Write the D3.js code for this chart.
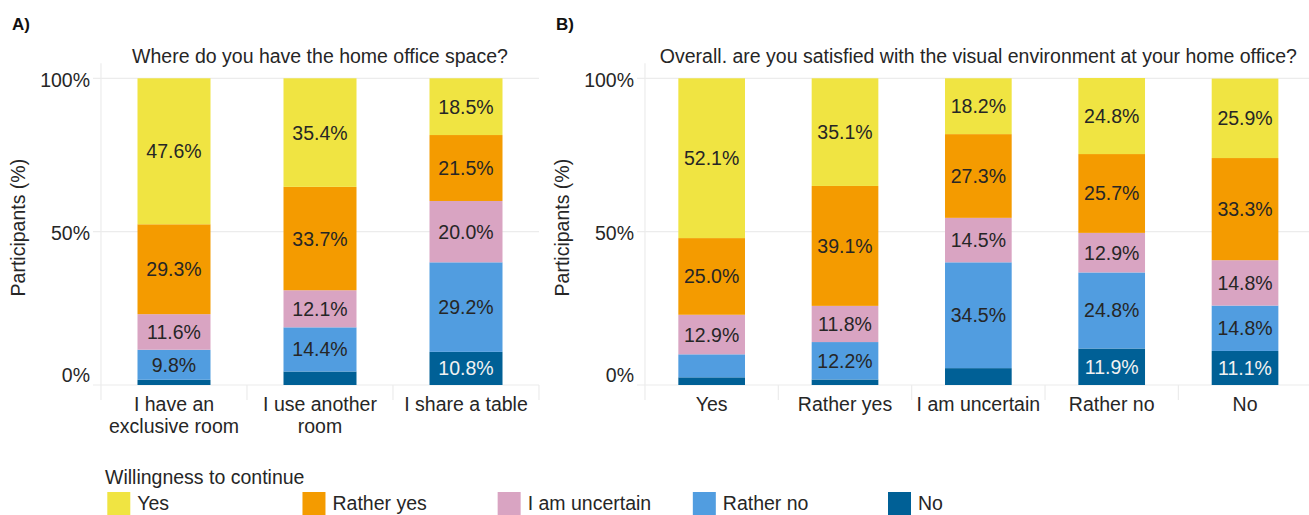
<!DOCTYPE html>
<html>
<head>
<meta charset="utf-8">
<script src="https://cdn.jsdelivr.net/npm/d3@7"></script>
<style>
  html, body { margin: 0; padding: 0; background: #fff; }
  svg { display: block; font-family: "Liberation Sans", Arial, sans-serif; }
</style>
</head>
<body>
<svg id="chart" width="1309" height="515"></svg>
<script>
// ---- data ----
const levels = ["Yes", "Rather yes", "I am uncertain", "Rather no", "No"];
const levelColors = ["#F0E442", "#F49B00", "#D9A4C2", "#519DE0", "#006096"];
const yTicks = [0, 50, 100];

const titleA = "Where do you have the home office space?";
const catsA = ["I have an exclusive room", "I use another room", "I share a table"];
const catLinesA = [["I have an", "exclusive room"], ["I use another", "room"], ["I share a table"]];
const yesA = [47.6, 35.4, 18.5];
const ratherYesA = [29.3, 33.7, 21.5];
const uncertainA = [11.6, 12.1, 20.0];
const ratherNoA = [9.8, 14.4, 29.2];
const noA = [1.7, 4.4, 10.8];

const titleB = "Overall. are you satisfied with the visual environment at your home office?";
const catsB = ["Yes", "Rather yes", "I am uncertain", "Rather no", "No"];
const yesB = [52.1, 35.1, 18.2, 24.8, 25.9];
const ratherYesB = [25.0, 39.1, 27.3, 25.7, 33.3];
const uncertainB = [12.9, 11.8, 14.5, 12.9, 14.8];
const ratherNoB = [7.5, 12.2, 34.5, 24.8, 14.8];
const noB = [2.5, 1.8, 5.5, 11.9, 11.1];

// ---- drawing ----
const svg = d3.select("#chart");
const FS = 19.5;
const textCol = "#262626";
const gridCol = "#ECECEC";
const color = d3.scaleOrdinal().domain(levels).range(levelColors);

const y = d3.scaleLinear().domain([0, 100]).range([385, 78.3]);

function panel(opts) {
  const { cats, lines, series, x0, x1, title, tag, tagX } = opts;
  const g = svg.append("g");
  const x = d3.scaleBand().domain(cats).range([x0, x1]).paddingInner(0.5).paddingOuter(0.25);
  const step = x.step();

  const rows = cats.map((c, i) => {
    const r = { cat: c };
    levels.forEach((l, j) => r[l] = series[j][i]);
    return r;
  });
  const stackKeys = levels.slice().reverse();
  const stacked = d3.stack().keys(stackKeys)(rows);

  // grid
  g.selectAll("line.hg").data(yTicks).join("line")
    .attr("x1", x0 - 8).attr("x2", x1)
    .attr("y1", d => y(d)).attr("y2", d => y(d))
    .attr("stroke", gridCol).attr("stroke-width", 1.2);
  g.append("line").attr("x1", x0).attr("x2", x0)
    .attr("y1", y(100) - 15).attr("y2", y(0) + 15)
    .attr("stroke", gridCol).attr("stroke-width", 1.2);
  g.selectAll("line.sep").data(cats).join("line")
    .attr("x1", (d, i) => x0 + step * (i + 1)).attr("x2", (d, i) => x0 + step * (i + 1))
    .attr("y1", y(0)).attr("y2", y(0) + 15)
    .attr("stroke", gridCol).attr("stroke-width", 1.2);

  // bars
  const layers = g.selectAll("g.layer").data(stacked).join("g")
    .attr("fill", d => color(d.key));
  layers.selectAll("rect").data(d => d.map(v => ({ v, key: d.key }))).join("rect")
    .attr("x", d => x(d.v.data.cat))
    .attr("width", x.bandwidth())
    .attr("y", d => y(d.v[1]))
    .attr("height", d => y(d.v[0]) - y(d.v[1]));

  // value labels
  const labels = [];
  stacked.forEach(layer => layer.forEach(v => {
    const val = v.data[layer.key];
    if (val >= 8) labels.push({ cat: v.data.cat, key: layer.key, val, mid: (v[0] + v[1]) / 2 });
  }));
  g.selectAll("text.val").data(labels).join("text")
    .attr("x", d => x(d.cat) + x.bandwidth() / 2)
    .attr("y", d => y(d.mid))
    .attr("dy", "0.36em")
    .attr("text-anchor", "middle")
    .attr("font-size", FS)
    .attr("fill", d => d.key === "No" ? "#F2F2F2" : textCol)
    .text(d => d.val.toFixed(1) + "%");

  // y axis labels
  const ax = g.append("g").attr("transform", `translate(${x0 - 11},0)`)
    .call(d3.axisLeft(y).tickValues(yTicks).tickSize(0).tickPadding(0).tickFormat(d => d + "%"));
  ax.select(".domain").remove();
  ax.selectAll("text").attr("font-size", FS).attr("fill", textCol)
    .attr("font-family", "Liberation Sans, Arial, sans-serif")
    .attr("dy", d => d === 0 ? "-0.2em" : "0.4em");

  // y axis title
  g.append("text")
    .attr("transform", `translate(${tagX + 6},${y(50) - 4}) rotate(-90)`)
    .attr("text-anchor", "middle").attr("dy", "0.35em")
    .attr("font-size", FS).attr("fill", textCol)
    .text("Participants (%)");

  // x labels
  const xl = g.selectAll("text.xl").data(cats).join("text")
    .attr("x", d => x(d) + x.bandwidth() / 2)
    .attr("y", y(0) + 26)
    .attr("text-anchor", "middle").attr("font-size", FS).attr("fill", textCol);
  xl.each(function (d, i) {
    const t = d3.select(this);
    lines[i].forEach((ln, k) => {
      t.append("tspan").attr("x", x(d) + x.bandwidth() / 2).attr("dy", k === 0 ? 0 : 21.7).text(ln);
    });
  });

  // title
  g.append("text").attr("x", (x0 + x1) / 2).attr("y", 63)
    .attr("text-anchor", "middle").attr("font-size", FS).attr("fill", textCol)
    .text(title);

  // tag
  g.append("text").attr("x", tagX).attr("y", 30)
    .attr("font-size", 17).attr("font-weight", "bold").attr("fill", "#111")
    .text(tag);
}

panel({
  cats: catsA, lines: catLinesA,
  series: [yesA, ratherYesA, uncertainA, ratherNoA, noA],
  x0: 101, x1: 539, title: titleA, tag: "A)", tagX: 12
});
panel({
  cats: catsB, lines: catsB.map(c => [c]),
  series: [yesB, ratherYesB, uncertainB, ratherNoB, noB],
  x0: 645, x1: 1311.7, title: titleB, tag: "B)", tagX: 556
});

// legend
const lg = svg.append("g");
lg.append("text").attr("x", 105).attr("y", 484)
  .attr("font-size", FS).attr("fill", textCol).text("Willingness to continue");
const legX = d3.scalePoint().domain(levels).range([107.3, 888]);
const items = lg.selectAll("g.item").data(levels).join("g")
  .attr("transform", d => `translate(${legX(d)},492)`);
items.append("rect").attr("width", 23).attr("height", 23).attr("fill", d => color(d));
items.append("text").attr("x", 30).attr("y", 18)
  .attr("font-size", FS).attr("fill", textCol).text(d => d);
</script>
</body>
</html>
